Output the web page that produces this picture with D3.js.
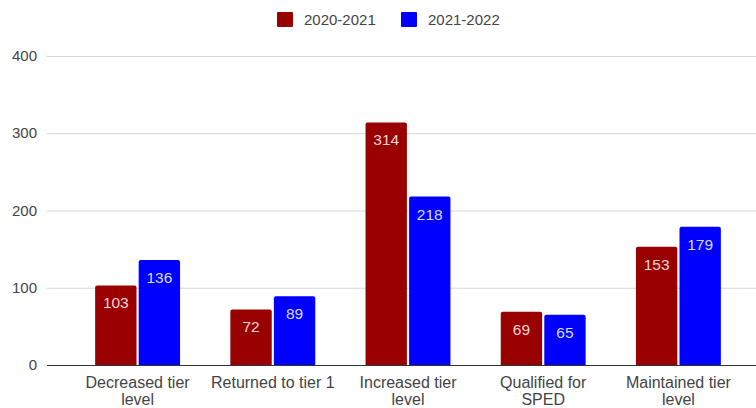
<!DOCTYPE html>
<html>
<head>
<meta charset="utf-8">
<script src="https://cdn.jsdelivr.net/npm/d3@7"></script>
<style>
  html, body { margin: 0; padding: 0; background: #fff; }
  svg { display: block; font-family: "Liberation Sans", Arial, sans-serif; }
</style>
</head>
<body>
<svg id="chart" width="756" height="408"></svg>
<script>
// Tier movement counts by school year
const categories = [
  ["Decreased tier", "level"],
  ["Returned to tier 1"],
  ["Increased tier", "level"],
  ["Qualified for", "SPED"],
  ["Maintained tier", "level"]
];
const seriesNames = ["2020-2021", "2021-2022"];
const values2020 = [103, 72, 314, 69, 153];
const values2021 = [136, 89, 218, 65, 179];
const yTicks = [0, 100, 200, 300, 400];

const colors = ["#990000", "#0000ff"];
const labelColors = ["#f6d4d4", "#d6dcff"];

const svg = d3.select("#chart");
const plotLeft = 47, plotRight = 756;
const y0 = 365, yTop = 56;

const keys = categories.map((c, i) => i);
const series = [values2020, values2021];

const x = d3.scaleBand()
  .domain(keys)
  .range([70, 746])
  .paddingInner(0.372)
  .paddingOuter(0.186);

const x1 = d3.scaleBand()
  .domain([0, 1])
  .range([0, x.bandwidth()])
  .paddingInner(0.05);

const y = d3.scaleLinear().domain([0, 400]).range([y0, yTop]);

// gridlines
svg.append("g")
  .selectAll("line")
  .data(yTicks.filter(t => t !== 0))
  .join("line")
  .attr("x1", plotLeft).attr("x2", plotRight)
  .attr("y1", d => y(d) + 0.5).attr("y2", d => y(d) + 0.5)
  .attr("stroke", "#d6d6d6").attr("stroke-width", 1);

// y tick labels
svg.append("g")
  .selectAll("text")
  .data(yTicks)
  .join("text")
  .attr("x", 37)
  .attr("y", d => y(d) + 5)
  .attr("text-anchor", "end")
  .attr("font-size", 15)
  .attr("fill", "#444")
  .text(d => d);

// bars with slightly rounded tops
function topRounded(xp, yp, w, h, r) {
  return `M${xp},${yp + h}V${yp + r}Q${xp},${yp} ${xp + r},${yp}H${xp + w - r}Q${xp + w},${yp} ${xp + w},${yp + r}V${yp + h}Z`;
}

const groups = svg.append("g")
  .selectAll("g")
  .data(keys)
  .join("g")
  .attr("transform", d => `translate(${x(d)},0)`);

groups.selectAll("path")
  .data(i => series.map((s, k) => ({ k, v: s[i] })))
  .join("path")
  .attr("d", d => topRounded(x1(d.k), y(d.v), x1.bandwidth(), y0 - y(d.v), 2))
  .attr("fill", d => colors[d.k]);

groups.selectAll("text.val")
  .data(i => series.map((s, k) => ({ k, v: s[i] })))
  .join("text")
  .attr("class", "val")
  .attr("x", d => x1(d.k) + x1.bandwidth() / 2)
  .attr("y", d => y(d.v) + 23)
  .attr("text-anchor", "middle")
  .attr("font-size", 15.5)
  .attr("fill", d => labelColors[d.k])
  .text(d => d.v);

// baseline
svg.append("line")
  .attr("x1", plotLeft).attr("x2", plotRight)
  .attr("y1", y0 + 0.5).attr("y2", y0 + 0.5)
  .attr("stroke", "#333").attr("stroke-width", 1);

// category labels
const xl = svg.append("g")
  .selectAll("text")
  .data(keys)
  .join("text")
  .attr("x", d => x(d) + x.bandwidth() / 2)
  .attr("y", 388)
  .attr("text-anchor", "middle")
  .attr("font-size", 16)
  .attr("fill", "#444");
xl.selectAll("tspan")
  .data(d => categories[d])
  .join("tspan")
  .attr("x", function () { return d3.select(this.parentNode).attr("x"); })
  .attr("dy", (d, i) => i === 0 ? 0 : 17)
  .text(d => d);

// legend
const legend = svg.append("g");
const legendX = [277, 401];
seriesNames.forEach((name, i) => {
  legend.append("rect")
    .attr("x", legendX[i]).attr("y", 12)
    .attr("width", 16).attr("height", 15)
    .attr("rx", 1)
    .attr("fill", colors[i]);
  legend.append("text")
    .attr("x", legendX[i] + 27).attr("y", 25)
    .attr("font-size", 15)
    .attr("fill", "#444")
    .text(name);
});
</script>
</body>
</html>
